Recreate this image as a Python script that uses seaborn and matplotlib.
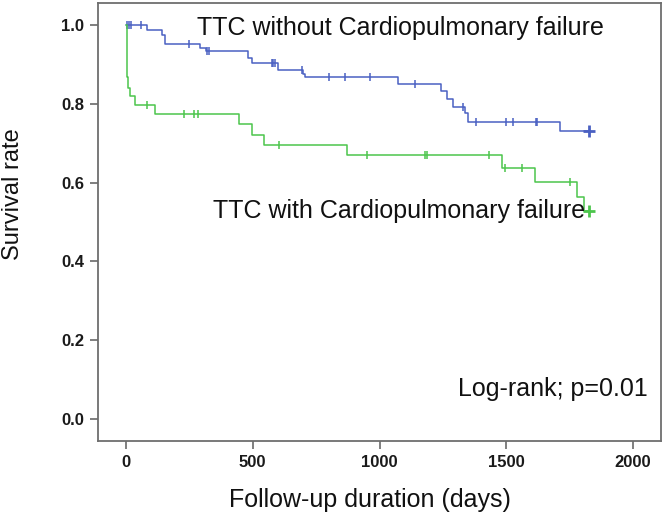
import numpy as np
import pandas as pd
import matplotlib
matplotlib.use("Agg")
import matplotlib.pyplot as plt
import seaborn as sns

# ---- data ----
blue_event_days = [83, 142, 154, 292, 316, 481, 497, 600, 698, 706, 1073, 1243, 1266, 1290, 1337, 1349, 1712]
blue_event_surv = [0.987, 0.975, 0.951, 0.943, 0.934, 0.917, 0.903, 0.885, 0.877, 0.868, 0.851, 0.833, 0.812, 0.791, 0.776, 0.754, 0.731]
blue_censor_days = [3, 12, 22, 60, 249, 321, 326, 576, 580, 588, 694, 801, 864, 963, 1140, 1329, 1381, 1499, 1527, 1617, 1621]
blue_last_day = 1826

green_event_days = [3, 9, 16, 36, 114, 446, 497, 544, 872, 1483, 1613, 1779, 1807]
green_event_surv = [0.868, 0.839, 0.819, 0.798, 0.774, 0.748, 0.720, 0.695, 0.669, 0.637, 0.601, 0.563, 0.529]
green_censor_days = [83, 229, 268, 284, 604, 951, 1180, 1186, 1432, 1495, 1562, 1751]
green_last_day = 1826

label_blue = "TTC without Cardiopulmonary failure"
label_green = "TTC with Cardiopulmonary failure"
logrank_text = "Log-rank; p=0.01"
x_label = "Follow-up duration (days)"
y_label = "Survival rate"
x_ticks = [0, 500, 1000, 1500, 2000]
y_ticks = [0.0, 0.2, 0.4, 0.6, 0.8, 1.0]

BLUE = "#4a60c2"
GREEN = "#4cc54c"

sns.set_style("white")
plt.rcParams["font.family"] = ["Liberation Sans", "DejaVu Sans"]


def km_frame(event_days, event_surv, last_day):
    t = [0] + list(event_days) + [last_day]
    s = [1.0] + list(event_surv) + [event_surv[-1]]
    return pd.DataFrame({"day": t, "surv": s})


def censor_frame(event_days, event_surv, censor_days):
    ev = np.array(event_days)
    sv = np.array([1.0] + list(event_surv))
    idx = np.searchsorted(ev, np.array(censor_days), side="right")
    return pd.DataFrame({"day": censor_days, "surv": sv[idx]})


fig = plt.figure(figsize=(6.66, 5.21), dpi=100)
W, H = 666, 521
ax = fig.add_axes([98 / W, 1 - 441 / H, (661 - 98) / W, (441 - 3) / H])

for days, surv, cens, last, col in [
    (blue_event_days, blue_event_surv, blue_censor_days, blue_last_day, BLUE),
    (green_event_days, green_event_surv, green_censor_days, green_last_day, GREEN),
]:
    df = km_frame(days, surv, last)
    sns.lineplot(data=df, x="day", y="surv", ax=ax, color=col, lw=1.1,
                 drawstyle="steps-post", estimator=None, sort=False)
    cdf = censor_frame(days, surv, cens)
    sns.scatterplot(data=cdf, x="day", y="surv", ax=ax, color=col,
                    marker="|", s=40, linewidth=1.1)
    fdf = pd.DataFrame({"day": [last], "surv": [surv[-1]]})
    sns.scatterplot(data=fdf, x="day", y="surv", ax=ax, color=col,
                    marker="+", s=70, linewidth=2.0)

ax.set_xlim(-110, 2110)
ax.set_ylim(-0.056, 1.056)
ax.set_xticks(x_ticks)
ax.set_yticks(y_ticks)
ax.set_xticklabels([str(v) for v in x_ticks])
ax.set_yticklabels([f"{v:.1f}" for v in y_ticks])
ax.tick_params(axis="both", which="major", direction="out", length=6, width=1.2,
               color="#6a6a6a", labelsize=12, pad=4, labelcolor="#1a1a1a",
               bottom=True, left=True, top=False, right=False)
for lab in ax.get_xticklabels() + ax.get_yticklabels():
    lab.set_fontweight("bold")
for sp in ax.spines.values():
    sp.set_color("#6e6e6e")
    sp.set_linewidth(1.3)
ax.set_xlabel("")
ax.set_ylabel("")

ax.text(280, 0.975, label_blue, fontsize=18, ha="left", va="baseline", color="#111111")
ax.text(1811, 0.509, label_green, fontsize=18, ha="right", va="baseline", color="#111111")
ax.text(2059, 0.0585, logrank_text, fontsize=18, ha="right", va="baseline", color="#111111")

fig.text(13 / W, 1 - 194 / H, y_label, rotation=90, fontsize=17, ha="center", va="center", color="#111111")
fig.text(370 / W, 1 - 500 / H, x_label, fontsize=18, ha="center", va="center", color="#111111")

fig.savefig("out.png", dpi=100)
